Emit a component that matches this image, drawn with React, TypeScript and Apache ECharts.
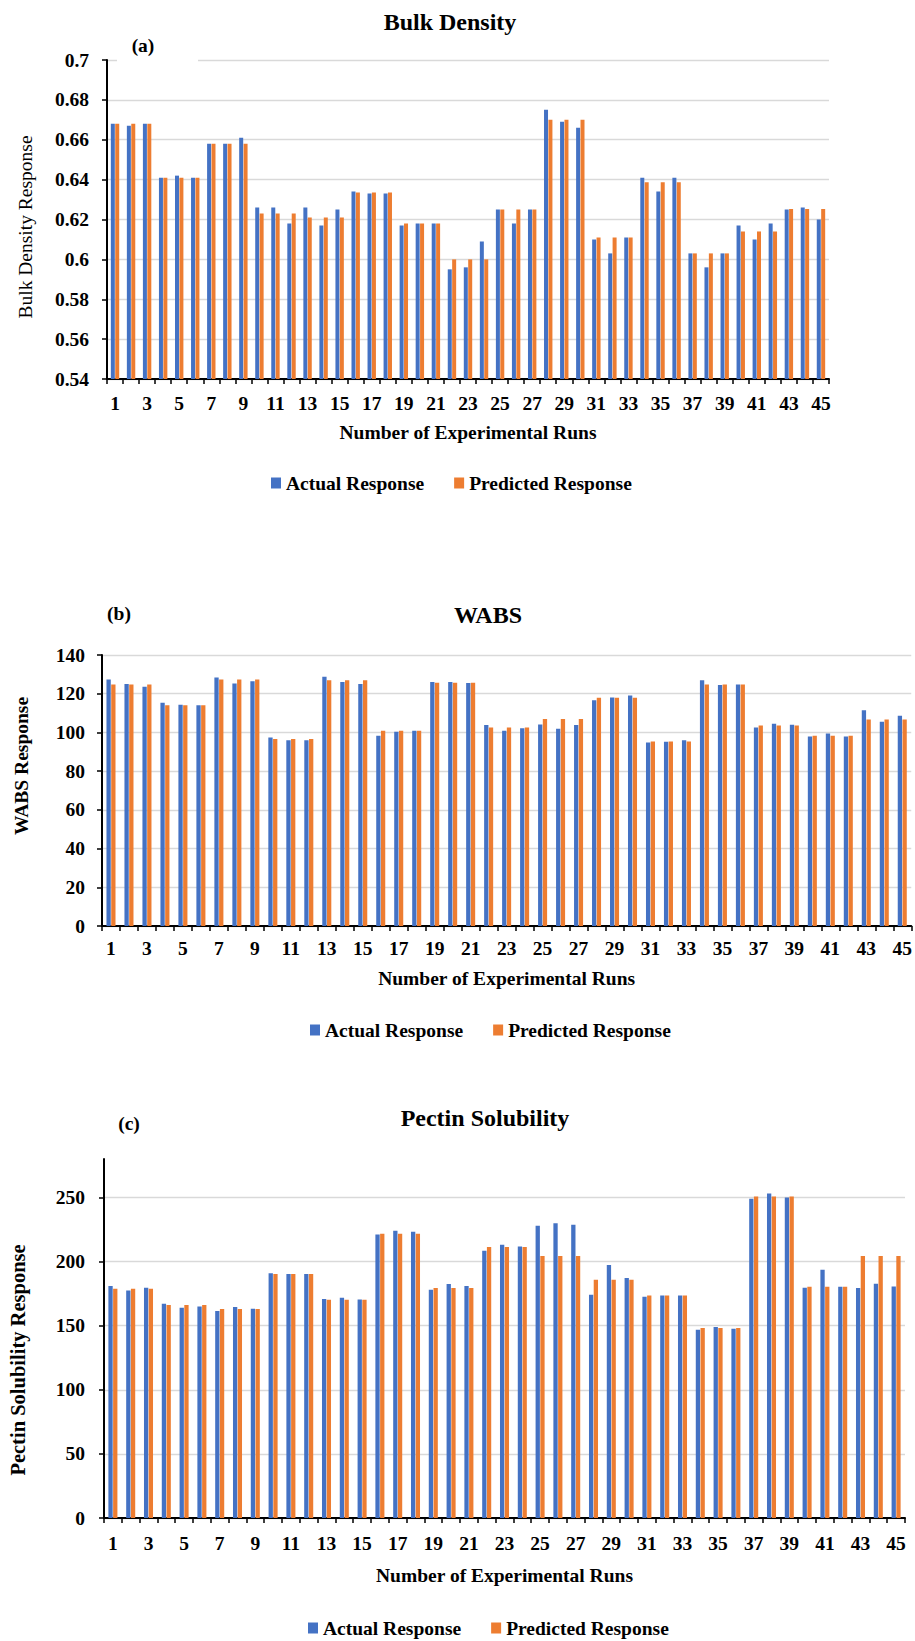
import React, { useEffect, useRef } from 'react';
import * as echarts from 'echarts';

const runs = ['1','2','3','4','5','6','7','8','9','10','11','12','13','14','15','16','17','18','19','20','21','22','23','24','25','26','27','28','29','30','31','32','33','34','35','36','37','38','39','40','41','42','43','44','45'];

const bulkActual = [0.668,0.667,0.668,0.641,0.642,0.641,0.658,0.658,0.661,0.626,0.626,0.618,0.626,0.617,0.625,0.634,0.633,0.633,0.617,0.618,0.618,0.595,0.596,0.609,0.625,0.618,0.625,0.675,0.669,0.666,0.610,0.603,0.611,0.641,0.634,0.641,0.603,0.596,0.603,0.617,0.610,0.618,0.625,0.626,0.620];
const bulkPredicted = [0.668,0.668,0.668,0.641,0.641,0.641,0.658,0.658,0.658,0.623,0.623,0.623,0.621,0.621,0.621,0.6335,0.6335,0.6335,0.618,0.618,0.618,0.600,0.600,0.600,0.625,0.625,0.625,0.670,0.670,0.670,0.611,0.611,0.611,0.6387,0.6387,0.6387,0.603,0.603,0.603,0.614,0.614,0.614,0.6253,0.6253,0.6253];

const wabsActual = [127.4,125.0,123.6,115.3,114.3,114.0,128.4,125.3,126.4,97.4,95.9,95.9,128.8,126.0,125.0,98.3,100.3,100.9,126.0,126.0,125.5,103.8,100.9,102.1,104.1,101.9,103.8,116.6,118.1,119.1,94.8,95.2,95.9,126.9,124.5,124.8,102.6,104.5,104.0,97.9,99.5,97.9,111.4,105.5,108.6];
const wabsPredicted = [124.8,124.8,124.8,114.0,114.0,114.0,127.4,127.4,127.4,96.6,96.6,96.6,126.9,126.9,126.9,100.9,100.9,100.9,125.6,125.6,125.6,102.6,102.6,102.6,106.9,106.9,106.9,117.9,117.9,117.9,95.3,95.3,95.3,124.8,124.8,124.8,103.6,103.6,103.6,98.3,98.3,98.3,106.7,106.7,106.7];

const pectinActual = [180.9,177.5,179.6,167.1,164.0,165.0,161.4,164.5,163.2,190.8,190.3,190.3,170.8,171.8,170.5,221.2,224.0,223.3,178.0,182.5,180.9,208.4,213.1,211.8,227.9,229.8,228.7,174.1,197.3,187.1,172.6,173.6,173.6,146.8,148.9,147.6,249.0,253.1,250.0,179.6,193.6,180.4,179.3,182.7,180.6];
const pectinPredicted = [178.8,178.8,178.8,166.1,166.1,166.1,163.0,163.0,163.0,190.3,190.3,190.3,170.2,170.2,170.2,221.7,221.7,221.7,179.3,179.3,179.3,211.3,211.3,211.3,204.3,204.3,204.3,185.8,185.8,185.8,173.6,173.6,173.6,148.1,148.1,148.1,250.8,250.8,250.8,180.4,180.4,180.4,204.3,204.3,204.3];

const pectinTicks = [0, 50, 100, 150, 200, 250];

const seriesNames = ['Actual Response', 'Predicted Response'];
const titles = ['Bulk Density', 'WABS', 'Pectin Solubility'];
const panelLabels = ['(a)', '(b)', '(c)'];
const yNames = ['Bulk Density Response', 'WABS Response', 'Pectin Solubility Response'];
const xName = 'Number of Experimental Runs';

const FONT = 'Liberation Serif, Times New Roman, serif';
const BLUE = '#4472C4';
const ORANGE = '#ED7D31';
const FS = 19.5;

export default function App() {
  const ref = useRef<HTMLDivElement>(null);

  useEffect(() => {
    document.body.style.margin = '0';
    if (!ref.current) return;
    const chart = echarts.init(ref.current, undefined, { renderer: 'svg' });

    const grids = [
      { left: 107, top: 60, width: 722, height: 319 },
      { left: 102, top: 655, width: 810, height: 271 },
      { left: 104, top: 1159, width: 801, height: 359 },
    ];
    const labelMargins = [14, 12, 15];
    const nameGaps = [43, 42, 47];
    const yLabelMargins = [18, 17, 19];

    const xAxes = grids.map((_, i) => ({
      type: 'category',
      gridIndex: i,
      data: runs,
      axisLine: { onZero: false, lineStyle: { color: '#000', width: 2 } },
      axisTick: { show: true, interval: 0, length: 5, lineStyle: { color: '#000', width: 1.5 } },
      axisLabel: {
        interval: 1,
        margin: labelMargins[i],
        fontFamily: FONT,
        fontWeight: 'bold',
        fontSize: FS,
        color: '#000',
      },
      name: xName,
      nameLocation: 'middle',
      nameGap: nameGaps[i],
      nameTextStyle: { fontFamily: FONT, fontWeight: 'bold', fontSize: FS, color: '#000' },
    }));

    const yLabel = (i: number) => ({
      margin: yLabelMargins[i],
      fontFamily: FONT,
      fontWeight: 'bold',
      fontSize: FS,
      color: '#000',
    });
    const yBase = (i: number) => ({
      type: 'value',
      gridIndex: i,
      axisLine: { show: true, lineStyle: { color: '#000', width: 2 } },
      axisTick: { show: true, length: 5, lineStyle: { color: '#000', width: 1.5 } },
      axisLabel: yLabel(i),
      splitLine: { show: true, lineStyle: { color: '#d9d9d9', width: 1.3 } },
    });

    const yAxes = [
      { ...yBase(0), min: 0.54, max: 0.7, interval: 0.02 },
      { ...yBase(1), min: 0, max: 140, interval: 20 },
      {
        ...yBase(2),
        min: 0,
        max: 280,
        interval: 50,
        axisTick: { show: true, length: 5, lineStyle: { color: '#000', width: 1.5 }, customValues: pectinTicks },
        axisLabel: { ...yLabel(2), customValues: pectinTicks },
      },
    ];

    const datasets = [
      [bulkActual, bulkPredicted],
      [wabsActual, wabsPredicted],
      [pectinActual, pectinPredicted],
    ];
    const series: any[] = [];
    datasets.forEach((pair, i) => {
      pair.forEach((d, j) => {
        series.push({
          type: 'bar',
          name: seriesNames[j],
          xAxisIndex: i,
          yAxisIndex: i,
          data: d,
          barWidth: i === 0 ? 4 : 4.3,
          barGap: '10%',
          itemStyle: { color: j === 0 ? BLUE : ORANGE },
        });
      });
    });

    const legendPos = [
      { left: 271, top: 473 },
      { left: 310, top: 1020 },
      { left: 308, top: 1618 },
    ];
    const legends = legendPos.map((p) => ({
      ...p,
      data: seriesNames,
      icon: 'rect',
      itemWidth: 10,
      itemHeight: 11,
      itemGap: 30,
      padding: 0,
      textStyle: { fontFamily: FONT, fontWeight: 'bold', fontSize: FS, color: '#000' },
    }));

    const titlePos = [[450, 22], [488, 615], [485, 1118]];
    const panelPos = [[143, 45], [119, 613], [129, 1123]];
    const yNamePos = [[25, 227], [21, 766], [18, 1360]];

    const graphics: any[] = [
      { type: 'rect', shape: { x: 117, y: 55, width: 81, height: 9 }, style: { fill: '#fff' }, z: 50 },
    ];
    titles.forEach((t, i) => {
      graphics.push({
        type: 'text', x: titlePos[i][0], y: titlePos[i][1], z: 60,
        style: { text: t, fill: '#000', fontFamily: FONT, fontWeight: 'bold', fontSize: 24, align: 'center', verticalAlign: 'middle' },
      });
      graphics.push({
        type: 'text', x: panelPos[i][0], y: panelPos[i][1], z: 60,
        style: { text: panelLabels[i], fill: '#000', fontFamily: FONT, fontWeight: 'bold', fontSize: FS, align: 'center', verticalAlign: 'middle' },
      });
      graphics.push({
        type: 'text', x: yNamePos[i][0], y: yNamePos[i][1], rotation: Math.PI / 2, z: 60,
        style: {
          text: yNames[i], fill: '#000',
          fontFamily: FONT,
          fontWeight: i === 0 ? 'normal' : 'bold',
          fontSize: i === 2 ? 20.5 : FS,
          align: 'center', verticalAlign: 'middle',
        },
      });
    });

    chart.setOption({
      animation: false,
      backgroundColor: '#fff',
      textStyle: { fontFamily: FONT },
      grid: grids.map((g) => ({ ...g, containLabel: false })),
      xAxis: xAxes,
      yAxis: yAxes,
      legend: legends,
      series,
      graphic: graphics,
    });

    return () => chart.dispose();
  }, []);

  return <div ref={ref} style={{ width: 915, height: 1641 }} />;
}
